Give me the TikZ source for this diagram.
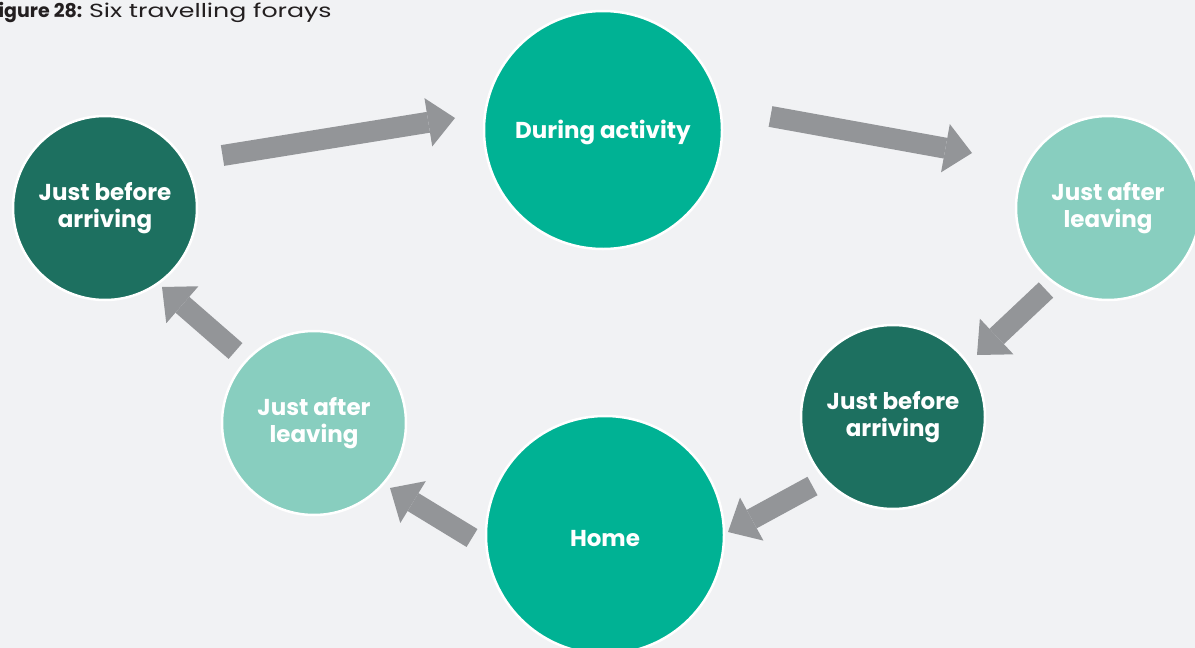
\documentclass[tikz,border=0pt]{standalone}
\usepackage{fontspec}
\setmainfont{Poppins}
\usetikzlibrary{arrows.meta}

\definecolor{paper}{HTML}{F1F2F4}
\definecolor{darkteal}{HTML}{1D7060}
\definecolor{midteal}{HTML}{00B294}
\definecolor{lightteal}{HTML}{88CEBF}
\definecolor{arrowgrey}{HTML}{939598}
\definecolor{titleink}{HTML}{231F20}

\begin{document}
\begin{tikzpicture}[x=1pt,y=-1pt,
  stage/.style={circle, draw=white, line width=2.5pt, text=white,
    font=\fontsize{23}{27}\selectfont\bfseries, align=center, inner sep=0pt,
    execute at begin node={\rule{0pt}{23pt}}},
  bigstage/.style={stage, minimum size=238pt, fill=midteal},
  darkstage/.style={stage, minimum size=184pt, fill=darkteal},
  lightstage/.style={stage, minimum size=184pt, fill=lightteal},
  flow/.style={draw=arrowgrey, line width=21pt, line cap=butt,
    -{Triangle[length=27pt, width=49pt, line width=0pt]}, arrowgrey}
]
% canvas
\fill[paper] (0,0) rectangle (1195,648);
\useasboundingbox (0,0) rectangle (1195,648);

% caption
\node[anchor=base west, inner sep=0pt, text=titleink] (caption) at (-12,17)
  {\fontsize{19}{22}\selectfont\textbf{Figure 28:}
   \scalebox{1.33}[1]{Six travelling forays}};

% the six stages of a foray
\node[darkstage]  (arriveA) at (105,208)  {Just before\\arriving};
\node[bigstage]   (activity) at (603,130) {During activity};
\node[lightstage] (leaveA) at (1108,208)  {Just after\\leaving};
\node[darkstage]  (arriveB) at (893,417)  {Just before\\arriving};
\node[bigstage]   (home) at (605,535)     {Home};
\node[lightstage] (leaveB) at (314,423)   {Just after\\leaving};

% arrow ends in the gaps between the stages
\coordinate (f1s) at (222.5,155.5);  \coordinate (f1e) at (455,118);
\coordinate (f2s) at (770.5,116.5);  \coordinate (f2e) at (972,153);
\coordinate (f3s) at (1046,290);     \coordinate (f3e) at (977,355);
\coordinate (f4s) at (812.5,486);    \coordinate (f4e) at (728,532);
\coordinate (f5s) at (472,538);      \coordinate (f5e) at (390,488);
\coordinate (f6s) at (235.5,351);    \coordinate (f6e) at (162,287);

\draw[flow] (f1s) -- (f1e);
\draw[flow] (f2s) -- (f2e);
\draw[flow] (f3s) -- (f3e);
\draw[flow] (f4s) -- (f4e);
\draw[flow] (f5s) -- (f5e);
\draw[flow] (f6s) -- (f6e);
\end{tikzpicture}
\end{document}
